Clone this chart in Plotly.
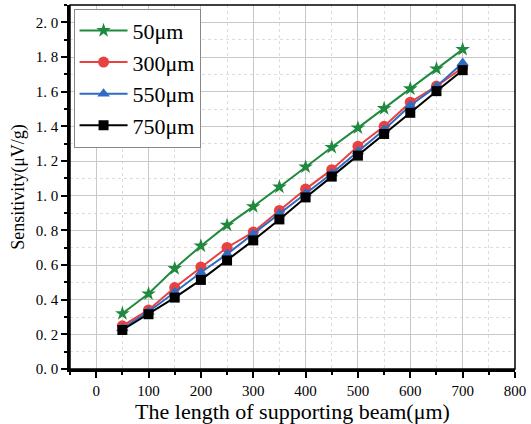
import plotly.graph_objects as go

x_len = [50, 100, 150, 200, 250, 300, 350, 400, 450, 500, 550, 600, 650, 700]
s50 = [0.32, 0.434, 0.58, 0.71, 0.83, 0.937, 1.05, 1.166, 1.279, 1.391, 1.503, 1.617, 1.732, 1.844]
s300 = [0.249, 0.341, 0.47, 0.588, 0.701, 0.79, 0.915, 1.038, 1.15, 1.285, 1.40, 1.539, 1.632, 1.738]
s550 = [0.235, 0.33, 0.443, 0.557, 0.663, 0.778, 0.895, 1.012, 1.128, 1.255, 1.38, 1.52, 1.63, 1.765]
s750 = [0.225, 0.316, 0.412, 0.514, 0.626, 0.742, 0.863, 0.99, 1.11, 1.231, 1.356, 1.478, 1.603, 1.724]

names = ["50μm", "300μm", "550μm", "750μm"]
series = [s50, s300, s550, s750]
colors = ["#1f8a3e", "#e8413f", "#2f6bc2", "#000000"]
symbols = ["star", "circle", "triangle-up", "square"]
sizes = [11, 11, 11, 10]

font_fam = "Liberation Serif, Times New Roman, serif"

fig = go.Figure()
for n, s, c, sym, sz in zip(names, series, colors, symbols, sizes):
    fig.add_trace(go.Scatter(
        x=x_len, y=s, name=n, mode="lines+markers",
        line=dict(color=c, width=2),
        marker=dict(symbol=sym, size=sz, color=c, line=dict(width=0)),
    ))

# frame top/right
fig.add_shape(type="rect", xref="paper", yref="paper", x0=0, y0=0, x1=1, y1=1,
              line=dict(color="black", width=1.5), layer="above")

fig.update_layout(
    width=531, height=424,
    margin=dict(l=70, r=12, t=5, b=55),
    paper_bgcolor="white", plot_bgcolor="white",
    font=dict(family=font_fam, color="black"),
    showlegend=True,
    legend=dict(x=0.008, y=0.99, xanchor="left", yanchor="top",
                bgcolor="white", bordercolor="#888888", borderwidth=1,
                font=dict(size=22, family=font_fam), tracegroupgap=0,
                itemwidth=48),
    xaxis=dict(
        range=[-50, 800], tickvals=[0, 100, 200, 300, 400, 500, 600, 700, 800],
        ticks="outside", ticklen=6, tickwidth=2, tickcolor="black",
        showline=True, linecolor="black", linewidth=2.5,
        showgrid=True, gridcolor="#c8c8c8", gridwidth=1,
        minor=dict(dtick=50, tick0=0, ticks="outside", ticklen=3, tickwidth=2, tickcolor="black",
                   showgrid=True, gridcolor="#dddddd", griddash="dot", gridwidth=1),
        tickfont=dict(size=15, family=font_fam),
        title=dict(text="The length of supporting beam(μm)", font=dict(size=22, family=font_fam), standoff=4),
        zeroline=False,
    ),
    yaxis=dict(
        range=[0, 2.1], tickvals=[0, 0.2, 0.4, 0.6, 0.8, 1.0, 1.2, 1.4, 1.6, 1.8, 2.0],
        ticktext=["0. 0", "0. 2", "0. 4", "0. 6", "0. 8", "1. 0", "1. 2", "1. 4", "1. 6", "1. 8", "2. 0"],
        ticks="outside", ticklen=6, tickwidth=2, tickcolor="black",
        showline=True, linecolor="black", linewidth=2.5,
        showgrid=True, gridcolor="#c8c8c8", gridwidth=1,
        minor=dict(dtick=0.1, tick0=0, ticks="outside", ticklen=3, tickwidth=2, tickcolor="black",
                   showgrid=True, gridcolor="#dddddd", griddash="dot", gridwidth=1),
        tickfont=dict(size=15, family=font_fam),
        title=dict(text="Sensitivity(μV/g)", font=dict(size=18, family=font_fam), standoff=7),
        zeroline=False,
    ),
)

fig.write_html("out.html")
